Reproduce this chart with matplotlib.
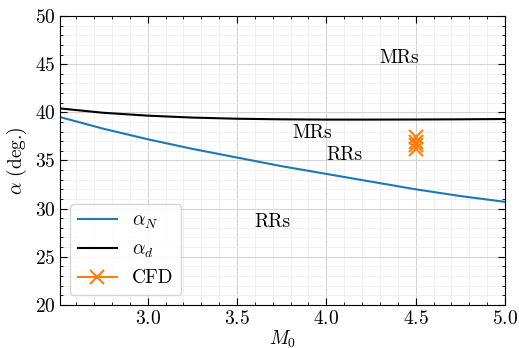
import matplotlib
matplotlib.use('Agg')
import matplotlib.pyplot as plt
from matplotlib.ticker import MultipleLocator

plt.rcParams['font.family'] = 'serif'
plt.rcParams['font.serif'] = ['cmr10']
plt.rcParams['mathtext.fontset'] = 'cm'
plt.rcParams['axes.formatter.use_mathtext'] = True
plt.rcParams['font.size'] = 14

# von Neumann and detachment criteria
mach = [2.51, 2.75, 3.0, 3.25, 3.5, 3.75, 4.0, 4.25, 4.5, 4.75, 5.0]
alpha_n = [39.5, 38.3, 37.2, 36.2, 35.3, 34.4, 33.6, 32.8, 32.0, 31.3, 30.7]
alpha_d = [40.4, 39.95, 39.65, 39.45, 39.33, 39.27, 39.24, 39.24, 39.25, 39.27, 39.3]

# CFD transition points
cfd_m = [4.5, 4.5, 4.5, 4.5]
cfd_a = [37.4, 36.9, 36.6, 36.2]

fig, ax = plt.subplots(figsize=(5.19, 3.48), dpi=100)
ax.plot(mach, alpha_n, color='#1f77b4', lw=1.5, label=r'$\alpha_N$')
ax.plot(mach, alpha_d, color='black', lw=1.5, label=r'$\alpha_d$')
ax.plot(cfd_m, cfd_a, '-x', color='#ff7f0e', ms=10, mew=1.5, label='CFD')

ax.text(4.41, 45.6, 'MRs', ha='center', va='center')
ax.text(3.92, 37.8, 'MRs', ha='center', va='center')
ax.text(4.1, 35.6, 'RRs', ha='center', va='center')
ax.text(3.7, 28.6, 'RRs', ha='center', va='center')

ax.set_xlim(2.51, 5.0)
ax.set_ylim(20, 50)
ax.xaxis.set_major_locator(MultipleLocator(0.5))
ax.xaxis.set_minor_locator(MultipleLocator(0.1))
ax.yaxis.set_major_locator(MultipleLocator(5))
ax.yaxis.set_minor_locator(MultipleLocator(1))
ax.tick_params(which='both', direction='in', top=True, right=True)
ax.tick_params(which='major', length=5)
ax.tick_params(which='minor', length=2.5)
ax.grid(which='major', color='#d4d4d4', lw=0.8)
ax.grid(which='minor', color='#efefef', lw=0.6)
ax.set_xlabel(r'$M_0$', labelpad=1)
ax.set_ylabel(r'$\alpha$ (deg.)')
ax.legend(loc='lower left')

fig.subplots_adjust(left=0.116, right=0.973, top=0.954, bottom=0.124)
fig.savefig('out.png', dpi=100)
